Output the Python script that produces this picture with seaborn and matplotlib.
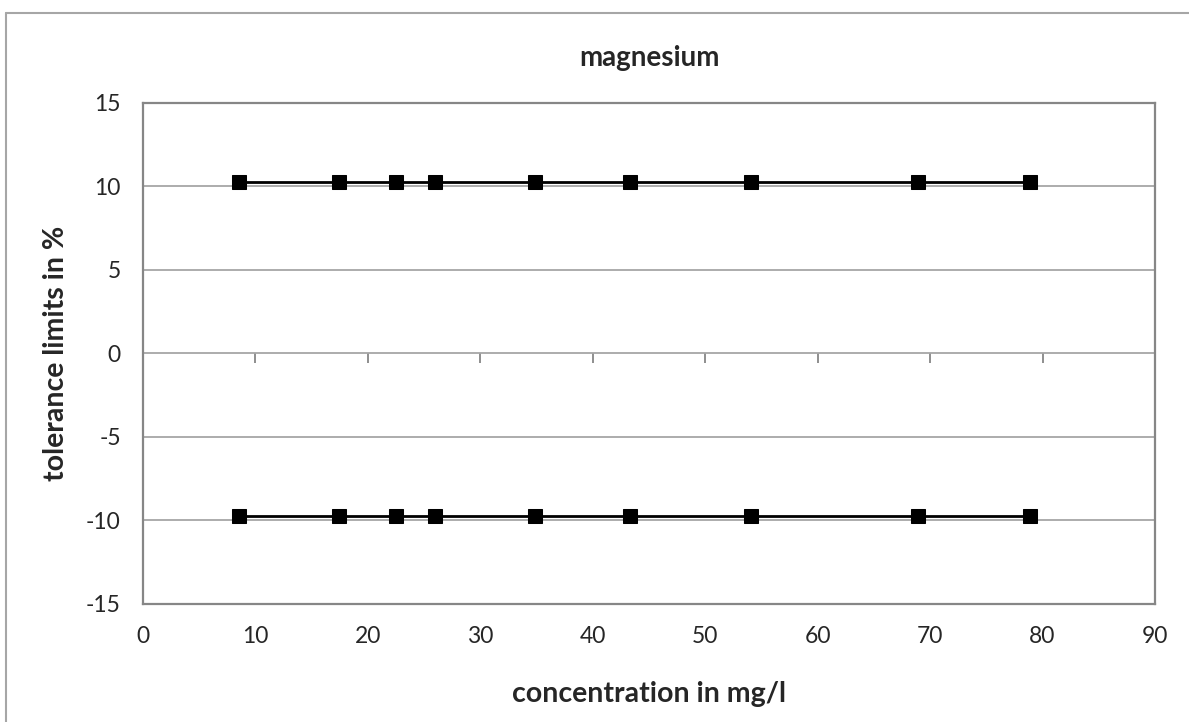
import numpy as np
import pandas as pd
import matplotlib
matplotlib.use('Agg')
import matplotlib.pyplot as plt
from matplotlib.lines import Line2D
import seaborn as sns

# data
concentration = [8.5, 17.4, 22.5, 26.0, 34.9, 43.3, 54.1, 68.9, 78.9]
upper_limit = [10.25] * len(concentration)
lower_limit = [-9.75] * len(concentration)

x_ticks = [0, 10, 20, 30, 40, 50, 60, 70, 80, 90]
y_ticks = [-15, -10, -5, 0, 5, 10, 15]

sns.set_style('white')
plt.rcParams['font.family'] = ['Lato', 'DejaVu Sans']
plt.rcParams['axes.unicode_minus'] = False

df = pd.DataFrame({
    'concentration': concentration * 2,
    'limit': upper_limit + lower_limit,
    'side': ['upper'] * len(concentration) + ['lower'] * len(concentration),
})

fig = plt.figure(figsize=(11.89, 7.22), dpi=100)
ax = fig.add_axes([143 / 1189, 1 - 604 / 722, (1155 - 143) / 1189, (604 - 102.5) / 722])

sns.lineplot(data=df, x='concentration', y='limit', units='side', estimator=None,
             color='black', linewidth=2, marker='s', markersize=10,
             markeredgecolor='black', ax=ax, zorder=3)

ax.set_xlim(0, 90)
ax.set_ylim(-15, 15)
ax.set_xticks(x_ticks)
ax.set_yticks(y_ticks)
ax.yaxis.grid(True, color='#a6a6a6', linewidth=1.3)
ax.xaxis.grid(False)

for s in ax.spines.values():
    s.set_color('#868686')
    s.set_linewidth(1.6)

ax.tick_params(axis='y', length=8, width=1.3, color='#868686', labelsize=16.5, pad=8)
ax.tick_params(axis='x', length=0, labelsize=16.5, pad=16)

# tick marks on the zero line, like the crossing horizontal axis
sec = ax.secondary_xaxis(0.5)
sec.set_xticks(x_ticks)
sec.tick_params(length=7, width=1.3, color='#868686', direction='in',
                labelbottom=False, labeltop=False)
sec.spines['bottom'].set_visible(False)
sec.spines['top'].set_visible(False)

ax.set_title('magnesium', fontsize=20, fontweight='bold', pad=26)
ax.set_xlabel('concentration in mg/l', fontsize=20.5, fontweight='bold', labelpad=24)
ax.set_ylabel('tolerance limits in %', fontsize=20.5, fontweight='bold', labelpad=12)

# outer chart border (top and left visible)
fig.add_artist(Line2D([6 / 1189, 1], [1 - 13 / 722, 1 - 13 / 722], color='#a6a6a6', linewidth=1.5))
fig.add_artist(Line2D([6 / 1189, 6 / 1189], [0, 1 - 13 / 722], color='#a6a6a6', linewidth=1.5))

fig.savefig('out.png', dpi=100)
